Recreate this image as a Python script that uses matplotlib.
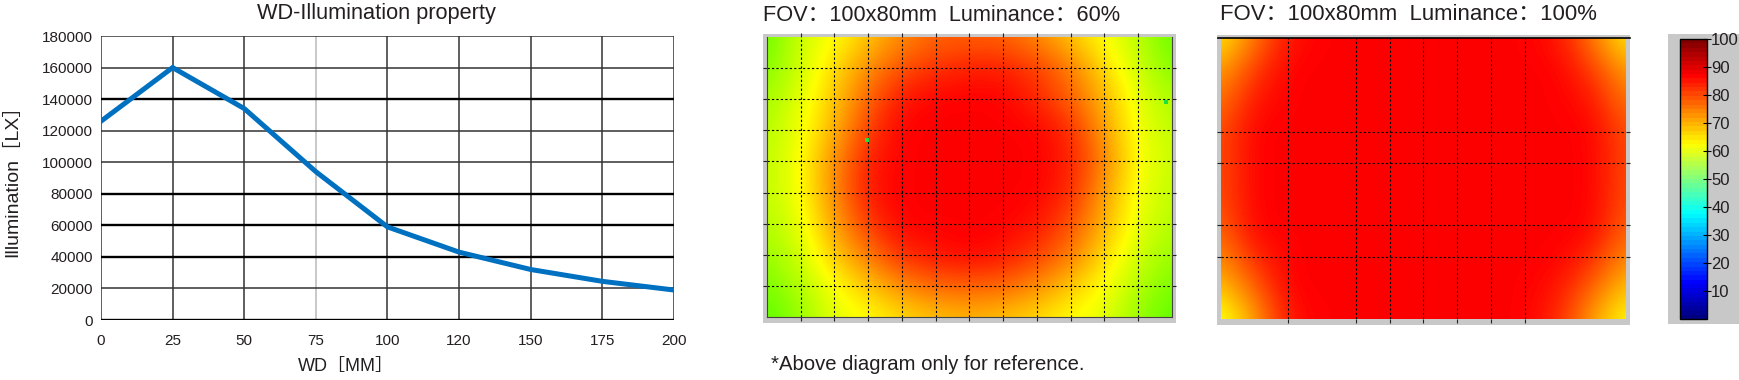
import matplotlib
matplotlib.use('Agg')
import matplotlib.pyplot as plt
from matplotlib.cm import ScalarMappable
from matplotlib.colors import LinearSegmentedColormap, Normalize

FONTS = ['Liberation Sans', 'Noto Sans CJK SC', 'DejaVu Sans']
plt.rcParams['font.family'] = FONTS

W, H = 1740, 380
TEXT = '#231f20'
FRAME = '#c8c8c8'

# line chart
wd_pos = [0, 25, 50, 75, 100, 125, 150, 175, 200]
wd_labels = ['0', '25', '50', '75', '100', '120', '150', '175', '200']
wd_line = [0, 25, 50, 75, 100, 125, 150, 175, 200]
lux_line = [126000, 160000, 134000, 94000, 59000, 43000, 32000, 24500, 19000]
lux_ticks = [0, 20000, 40000, 60000, 80000, 100000, 120000, 140000, 160000, 180000]

# luminance maps, values read at the grid crossings
lum_60 = [
    [47, 58, 62, 68, 74, 78, 78, 78, 74, 68, 62, 56, 47],
    [50, 58, 66, 74, 80, 83, 85, 85, 82, 76, 66, 58, 50],
    [53, 60, 68, 78, 86, 88, 88, 88, 84, 78, 70, 60, 54],
    [55, 61, 70, 82, 88, 88, 88, 88, 88, 84, 72, 61, 56],
    [56, 62, 74, 85, 88, 88, 88, 88, 88, 85, 75, 62, 57],
    [56, 62, 74, 86, 88, 88, 88, 88, 88, 84, 72, 61, 56],
    [55, 60, 72, 82, 88, 88, 88, 88, 86, 80, 70, 60, 55],
    [52, 58, 68, 76, 84, 86, 88, 86, 82, 76, 66, 58, 52],
    [49, 55, 62, 68, 74, 78, 78, 78, 74, 68, 62, 55, 49],
    [46, 52, 60, 62, 66, 68, 70, 68, 66, 62, 60, 52, 46],
]
lum_100 = [
    [64, 76, 86, 88, 88, 88, 88, 88, 88, 88, 86, 76, 64],
    [72, 82, 88, 88, 88, 88, 88, 88, 88, 88, 88, 82, 72],
    [76, 86, 88, 88, 88, 88, 88, 88, 88, 88, 88, 86, 76],
    [80, 88, 88, 88, 88, 88, 88, 88, 88, 88, 88, 88, 80],
    [80, 88, 88, 88, 88, 88, 88, 88, 88, 88, 88, 88, 80],
    [80, 88, 88, 88, 88, 88, 88, 88, 88, 88, 88, 88, 80],
    [78, 88, 88, 88, 88, 88, 88, 88, 88, 88, 88, 88, 78],
    [74, 84, 88, 88, 88, 88, 88, 88, 88, 88, 88, 84, 74],
    [68, 78, 88, 88, 88, 88, 88, 88, 88, 88, 86, 78, 68],
    [60, 72, 86, 88, 88, 88, 88, 88, 88, 88, 84, 72, 62],
]
grid_x_60 = [1, 2, 3, 4, 5, 6, 7, 8, 9, 10, 11]
grid_y_60 = [1, 2, 3, 4, 5, 6, 7, 8]
grid_x_100 = [2, 4, 5, 6, 7, 8, 9]
grid_y_100 = [3, 4, 6, 7]
speck_x = [2.97, 11.83]
speck_y = [3.3, 2.1]
cbar_ticks = [10, 20, 30, 40, 50, 60, 70, 80, 90, 100]

# same nodes as the MATLAB jet, 64 steps
JET = LinearSegmentedColormap.from_list('jet64', [
    (0, '#000080'), (0.125, '#0000ff'), (0.375, '#00ffff'),
    (0.625, '#ffff00'), (0.875, '#ff0000'), (1, '#800000')], N=64)
# the maps themselves run to a purer green than the bar shows
MAP_CMAP = LinearSegmentedColormap.from_list('map', [
    (0, '#000080'), (0.125, '#0000ff'), (0.375, '#00ffff'), (0.45, '#50ff00'),
    (0.625, '#ffff00'), (0.88, '#ff0000'), (1, '#800000')], N=256)


def px_axes(fig, left, top, right, bottom, **kw):
    return fig.add_axes([left / W, 1 - bottom / H, (right - left) / W, (bottom - top) / H], **kw)


def grey_panel(fig, left, top, right, bottom):
    panel = px_axes(fig, left, top, right, bottom, facecolor=FRAME, xticks=[], yticks=[])
    for s in panel.spines.values():
        s.set_visible(False)


def heatmap(fig, box, values, grid_x, grid_y, sides, top_ticks=True):
    left, top, right, bottom = box
    grey_panel(fig, left - 4, top - 3, right + 4, bottom + 6)
    ax = px_axes(fig, left, top, right, bottom)
    ax.imshow(values, cmap=MAP_CMAP, norm=Normalize(0, 100), aspect='auto', interpolation='bicubic',
              extent=(-0.5, 12.5, 9.5, -0.5))
    ax.set_xlim(0, 12)
    ax.set_ylim(9, 0)
    ax.set_xticks(grid_x)
    ax.set_yticks(grid_y)
    ax.tick_params(length=3, width=0.8, color='#222222', top=top_ticks, right=True,
                   labelbottom=False, labelleft=False)
    for x in grid_x:
        ax.axvline(x, color='black', lw=0.8, ls=(0, (2, 2)))
    for y in grid_y:
        ax.axhline(y, color='black', lw=0.8, ls=(0, (2, 2)))
    for name, s in ax.spines.items():
        s.set_visible(name in sides)
        s.set_color('#444444')
    return ax


fig = plt.figure(figsize=(W / 100, H / 100), dpi=100)

# WD-illumination curve
ax = px_axes(fig, 101, 36, 674, 320)
ax.set_xlim(0, 200)
ax.set_ylim(0, 180000)
for x in wd_pos:
    ax.axvline(x, color='#b9b9b9' if x == 75 else '#333333', lw=1.1, zorder=1)
for y in lux_ticks:
    heavy = y in (0, 40000, 60000, 80000, 140000)
    ax.axhline(y, color='black' if heavy else '#333333', lw=1.7 if heavy else 1.1, zorder=1)
ax.plot(wd_line, lux_line, color='#0070c0', lw=3.6, zorder=3, solid_joinstyle='miter')
ax.set_xticks(wd_pos, wd_labels)
ax.set_yticks(lux_ticks)
ax.tick_params(length=0, labelsize=11, labelcolor=TEXT)
ax.tick_params(axis='x', pad=10)
ax.tick_params(axis='y', pad=6)
for s in ax.spines.values():
    s.set_visible(False)
fig.text(376 / W, 1 - 13 / H, 'WD-Illumination property', fontsize=15.7, color=TEXT, ha='center', va='center')
fig.text(346 / W, 1 - 366 / H, 'WD［MM］', fontsize=13, color=TEXT, ha='center', va='center')
fig.text(12 / W, 1 - 176 / H, 'Illumination［LX］', fontsize=14, color=TEXT, ha='center', va='center',
         rotation=90)

# luminance maps
ax60 = heatmap(fig, (767, 37, 1172, 317), lum_60, grid_x_60, grid_y_60, ('left', 'right', 'bottom'))
ax60.scatter(speck_x, speck_y, s=5, marker='s', color='#20e040', linewidths=0, zorder=4)
ax100 = heatmap(fig, (1221, 38, 1626, 319), lum_100, grid_x_100, grid_y_100, (), top_ticks=False)
ax100.axhline(0, xmin=-0.008, xmax=1.01, color='black', lw=1.2, clip_on=False)

fig.text(763 / W, 1 - 15 / H, 'FOV：100x80mm  Luminance：60%', fontsize=15.7, color=TEXT, va='center')
fig.text(1220 / W, 1 - 14 / H, 'FOV：100x80mm  Luminance：100%', fontsize=15.9, color=TEXT, va='center')
fig.text(771 / W, 1 - 364 / H, '*Above diagram only for reference.', fontsize=14.6, color=TEXT, va='center')

# colour bar on its grey panel
grey_panel(fig, 1668, 34, 1740, 324)
cax = px_axes(fig, 1680, 39, 1707, 319)
cb = fig.colorbar(ScalarMappable(Normalize(0, 100), JET), cax=cax)
cb.set_ticks(cbar_ticks)
cb.outline.set_linewidth(1.0)
cax.tick_params(direction='inout', length=6, width=0.8, labelsize=12, pad=0, labelcolor=TEXT)

fig.savefig('out.png', dpi=100)
